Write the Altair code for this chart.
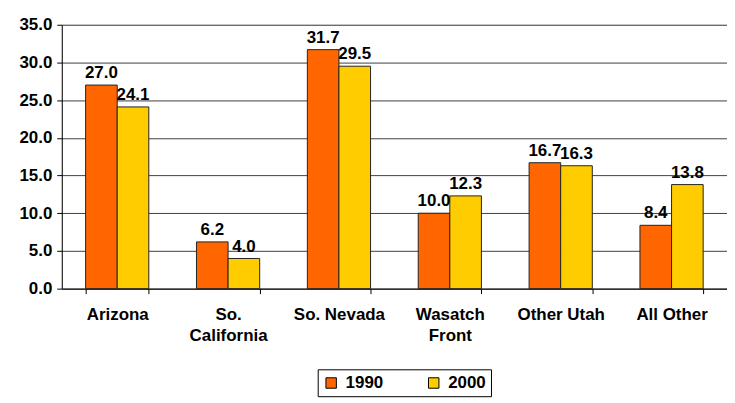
import altair as alt
import pandas as pd

regions = ["Arizona", "So.\nCalifornia", "So. Nevada", "Wasatch\nFront", "Other Utah", "All Other"]
years = ["1990", "2000"]
v1990 = [27.0, 6.2, 31.7, 10.0, 16.7, 8.4]
v2000 = [24.1, 4.0, 29.5, 12.3, 16.3, 13.8]

rows = []
for r, a, b in zip(regions, v1990, v2000):
    rows.append({"region": r, "year": "1990", "value": a})
    rows.append({"region": r, "year": "2000", "value": b})
df = pd.DataFrame(rows)

font = "Liberation Sans"

x = alt.X("region:N", sort=regions, title=None,
          scale=alt.Scale(paddingInner=0.43, paddingOuter=0.215),
          axis=alt.Axis(labelAngle=0, labelExpr="split(datum.label, '\\n')",
                        labelFont=font, labelFontSize=17, labelFontWeight="bold",
                        labelColor="black", labelPadding=13, labelLineHeight=21,
                        labelBaseline="top",
                        tickBand="extent", tickColor="black", tickSize=5,
                        domainColor="black", grid=False))
y = alt.Y("value:Q", title=None,
          scale=alt.Scale(domain=[0, 35], nice=False),
          axis=alt.Axis(values=[0, 5, 10, 15, 20, 25, 30, 35], format=".1f",
                        labelOverlap=False, labelBound=False,
                        labelFont=font, labelFontSize=17, labelFontWeight="bold",
                        labelColor="black", labelPadding=5,
                        tickColor="black", tickSize=5, domainColor="black",
                        grid=True, gridColor="#404040", gridWidth=1))
color = alt.Color("year:N", title=None,
                  scale=alt.Scale(domain=years, range=["#FF6600", "#FFCC00"]),
                  legend=alt.Legend(orient="none", direction="horizontal",
                                    legendX=257, legendY=346,
                                    symbolType="square", symbolSize=110,
                                    symbolStrokeColor="black", symbolStrokeWidth=1,
                                    symbolOffset=0,
                                    labelFont=font, labelFontSize=17, labelFontWeight="bold",
                                    labelColor="black", labelOffset=6, columnPadding=42,
                                    strokeColor="black", padding=5))

base = alt.Chart(df).encode(x=x, y=y, xOffset=alt.XOffset("year:N", sort=years))

bars = base.mark_bar(stroke="#222222", strokeWidth=1).encode(color=color)
labels = base.mark_text(dy=-7, baseline="alphabetic", font=font, fontSize=17,
                        fontWeight="bold", color="black").encode(
    text=alt.Text("value:Q", format=".1f"))

chart = (bars + labels).properties(width=668, height=265).configure_view(
    stroke="black", strokeWidth=1.5).configure(padding={"left": 10, "top": 7, "right": 0, "bottom": 0})

chart.save("out.html", embed_options={"renderer": "svg", "actions": False})
